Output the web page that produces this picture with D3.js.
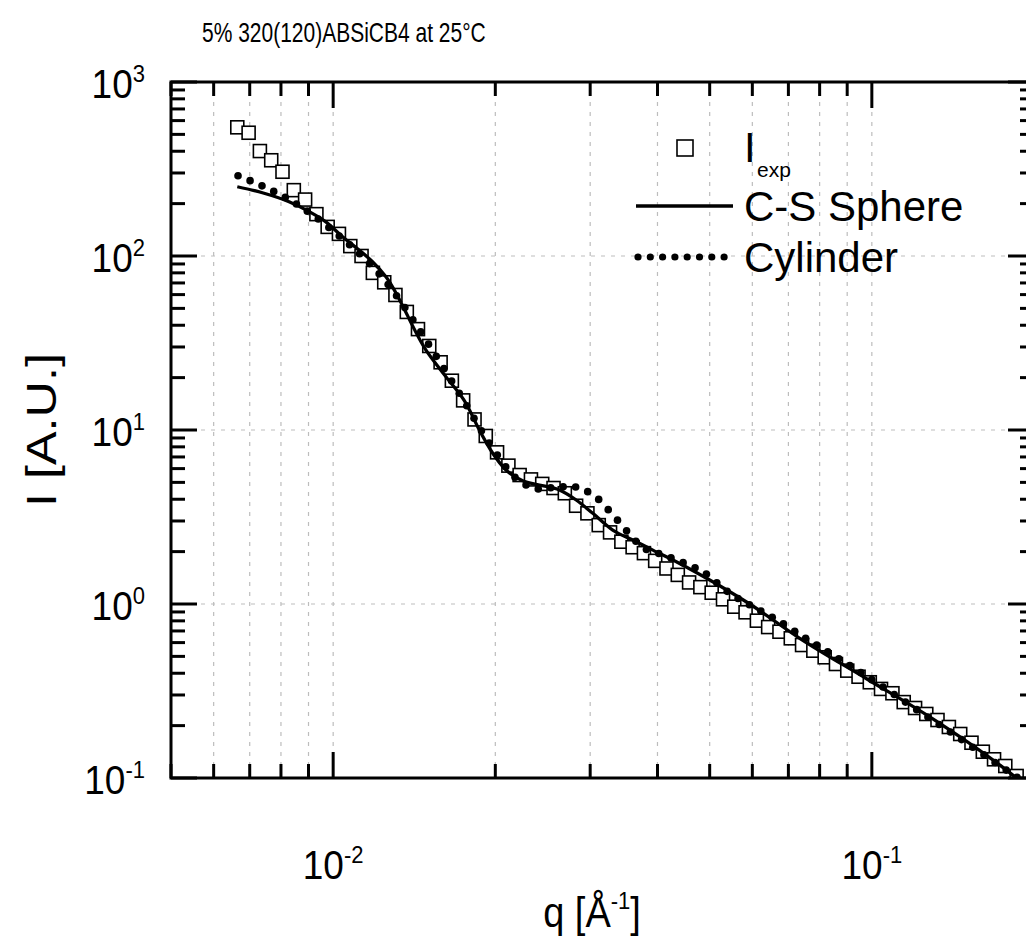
<!DOCTYPE html>
<html><head><meta charset="utf-8">
<script src="https://cdn.jsdelivr.net/npm/d3@7"></script>
<style>
body{margin:0;background:#fff}
svg{display:block}
text{font-family:"Liberation Sans",Arial,Helvetica,sans-serif;fill:#000}
</style>
</head><body>
<svg id="c" width="1026" height="939"></svg>
<script>
// ---------- data ----------
const qExp = [0.006638,0.006967,0.007311,0.007674,0.008053,0.008452,0.008870,0.009309,0.009768,0.01025,
0.01076,0.01129,0.01185,0.01244,0.01305,0.01370,0.01437,0.01508,0.01583,0.01661,
0.01743,0.01830,0.01920,0.02015,0.02115,0.02219,0.02329,0.02444,0.02565,0.02692,
0.02825,0.02965,0.03112,0.03266,0.03428,0.03597,0.03775,0.03961,0.04157,0.04363,
0.04579,0.04805,0.05043,0.05293,0.05554,0.05829,0.06118,0.06420,0.06738,0.07072,
0.07421,0.07788,0.08174,0.08578,0.09003,0.09448,0.09913,0.1040,0.1092,0.1146,
0.1203,0.1262,0.1324,0.1390,0.1459,0.1531,0.1607,0.1686,0.1769,0.1857];
const iExp = [549,511,401,355,305,239,211,174,147,134,
114,100,80,70.6,59.7,47.7,38.0,30.4,24.5,19.2,
14.8,11.5,9.24,7.44,6.24,5.51,5.20,4.90,4.64,4.33,
3.67,3.32,2.84,2.58,2.28,2.12,1.96,1.77,1.60,1.47,
1.33,1.25,1.161,1.064,0.965,0.896,0.802,0.737,0.693,0.635,
0.581,0.539,0.494,0.452,0.414,0.382,0.355,0.325,0.307,0.273,
0.2525,0.2333,0.2154,0.1964,0.1790,0.1595,0.1416,0.1281,0.1172,0.1027];

const qSphere = [0.006638,0.007389,0.008282,0.009024,0.009693,0.01041,0.01118,0.01183,0.01253,0.01487,
0.01620,0.01765,0.01868,0.01978,0.02094,0.02248,0.02415,0.02631,0.02826,0.03034,
0.03304,0.03600,0.03922,0.04397,0.05000,0.05933,0.07347,0.09775,0.1300,0.1729,0.2];
const iSphere = [250,231,205,180,157,129,108,92.7,76,28.8,
20.2,14.2,10,7.35,5.89,5.11,4.83,4.52,3.96,3.32,
2.66,2.33,2.04,1.71,1.374,1.0,0.635,0.372,0.218,0.1185,0.083];

const qCyl = [0.006659,0.007387,0.008203,0.009128,0.01012,0.01122,0.01235,0.01541,0.01648,0.01757,
0.01868,0.01998,0.02170,0.02281,0.02408,0.02539,0.02669,0.02818,0.02970,0.03131,
0.03282,0.03435,0.03585,0.03757,0.03967,0.04411,0.04893,0.05431,0.06035,0.06697,
0.07453,0.08719,0.1020,0.1193,0.1396,0.1634,0.1813,0.2];
const iCyl = [289.3,252.6,214.6,173.7,135,102.3,75.0,27.6,19.8,14.35,
10.36,7.50,5.39,4.83,4.58,4.66,4.72,4.70,4.42,3.92,
3.33,2.84,2.43,2.11,1.98,1.755,1.507,1.161,0.959,0.804,
0.649,0.481,0.353,0.255,0.1845,0.1326,0.1064,0.088];

const xDomain = [0.005, 0.2];
const yDomain = [0.1, 1000];
const xTickValues = [0.01, 0.1];
const xTickExps = ["-2", "-1"];
const yTickValues = [0.1, 1, 10, 100, 1000];
const yTickExps = ["-1", "0", "1", "2", "3"];
const titleText = "5% 320(120)ABSiCB4 at 25°C";
const legendNames = ["I", "C-S Sphere", "Cylinder"];

// ---------- layout ----------
const L = 171, R = 1034, T = 82, B = 778;
const svg = d3.select("#c");
const x = d3.scaleLog().domain(xDomain).range([L, R]);
const y = d3.scaleLog().domain(yDomain).range([B, T]);
const isMajor = v => Math.abs(Math.log10(v) - Math.round(Math.log10(v))) < 1e-6;

svg.append("clipPath").attr("id", "clip").append("rect")
  .attr("x", L).attr("y", T).attr("width", R - L).attr("height", B - T);

// grid
const grid = svg.append("g").attr("stroke", "#bdbdbd").attr("stroke-width", 1.2)
  .attr("stroke-dasharray", "4,6");
x.ticks().filter(v => v > xDomain[0] * 1.0001 && v < xDomain[1] * 0.9999).forEach(v => {
  grid.append("line").attr("x1", x(v)).attr("x2", x(v)).attr("y1", T).attr("y2", B);
});
yTickValues.filter(v => v > yDomain[0] && v < yDomain[1]).forEach(v => {
  grid.append("line").attr("x1", L).attr("x2", R).attr("y1", y(v)).attr("y2", y(v));
});

// data
const plot = svg.append("g").attr("clip-path", "url(#clip)");
const expData = qExp.map((q, i) => [q, iExp[i]]);
const sq = 13;
plot.append("g").selectAll("rect").data(expData).join("rect")
  .attr("x", d => x(d[0]) - sq / 2).attr("y", d => y(d[1]) - sq / 2)
  .attr("width", sq).attr("height", sq)
  .attr("fill", "#fff").attr("stroke", "#000").attr("stroke-width", 1.6);

const lineGen = d3.line().x(d => x(d[0])).y(d => y(d[1])).curve(d3.curveMonotoneX);
plot.append("path").datum(qSphere.map((q, i) => [q, iSphere[i]]))
  .attr("d", lineGen).attr("fill", "none").attr("stroke", "#000").attr("stroke-width", 3.3)
  .attr("stroke-linejoin", "round");

const cylPath = plot.append("path").datum(qCyl.map((q, i) => [q, iCyl[i]]))
  .attr("d", lineGen).attr("fill", "none").attr("stroke", "none");
const node = cylPath.node();
const len = node.getTotalLength();
const dots = [];
let prev = node.getPointAtLength(0), acc = 0;
dots.push(prev);
for (let s = 0.5; s <= len; s += 0.5) {
  const p = node.getPointAtLength(s);
  acc += Math.hypot(p.x - prev.x, (p.y - prev.y) / 1.24);
  prev = p;
  if (acc >= 12.3) { dots.push(p); acc = 0; }
}
plot.append("g").selectAll("circle").data(dots).join("circle")
  .attr("cx", d => d.x).attr("cy", d => d.y).attr("r", 3.8).attr("fill", "#000");

// axes frame + ticks
const ax = svg.append("g").attr("stroke", "#000");
ax.append("rect").attr("x", L).attr("y", T).attr("width", R - L).attr("height", B - T)
  .attr("fill", "none").attr("stroke-width", 3);
const tickW = 3, majLen = 26, minLen = 14;
x.ticks().forEach(v => {
  const l = isMajor(v) ? majLen : minLen;
  ax.append("line").attr("x1", x(v)).attr("x2", x(v)).attr("y1", B).attr("y2", B - l).attr("stroke-width", tickW);
  ax.append("line").attr("x1", x(v)).attr("x2", x(v)).attr("y1", T).attr("y2", T + l).attr("stroke-width", tickW);
});
y.ticks().forEach(v => {
  const l = isMajor(v) ? majLen : minLen;
  ax.append("line").attr("y1", y(v)).attr("y2", y(v)).attr("x1", L).attr("x2", L + l).attr("stroke-width", tickW);
  ax.append("line").attr("y1", y(v)).attr("y2", y(v)).attr("x1", R).attr("x2", R - l).attr("stroke-width", tickW);
});

// helper: text with a scale transform
function stext(px, py, sx, sy, size, anchor) {
  return svg.append("text").attr("transform", `translate(${px},${py}) scale(${sx},${sy})`)
    .attr("x", 0).attr("y", 0).attr("font-size", size).attr("text-anchor", anchor || "start");
}

// tick labels
const fsTick = 37, fsSup = 22;
xTickValues.forEach((v, i) => {
  const t = stext(x(v), 879, 1, 1.1, fsTick, "middle");
  t.append("tspan").text("10");
  t.append("tspan").attr("font-size", fsSup).attr("dy", -15).text(xTickExps[i]);
});
yTickValues.forEach((v, i) => {
  const t = stext(145, y(v) + 16, 1, 1.1, fsTick, "end");
  t.append("tspan").text("10");
  t.append("tspan").attr("font-size", fsSup).attr("dy", -15).text(yTickExps[i]);
});

// axis titles
const xt = stext(592, 927, 1, 1.1, 38, "middle");
xt.append("tspan").text("q [Å");
xt.append("tspan").attr("font-size", fsSup).attr("dy", -16).text("-1");
xt.append("tspan").attr("dy", 16).text("]");
svg.append("text").attr("transform", "translate(56,430) rotate(-90) scale(1.2,1)")
  .attr("text-anchor", "middle").attr("font-size", 42).text("I [A.U.]");

// title
stext(202, 42, 1, 1.3, 21, "start").text(titleText);

// legend
const lg = svg.append("g");
lg.append("rect").attr("x", 677).attr("y", 140).attr("width", 16).attr("height", 16)
  .attr("fill", "#fff").attr("stroke", "#000").attr("stroke-width", 1.6);
lg.append("text").attr("x", 744).attr("y", 162).attr("font-size", 42).text(legendNames[0]);
lg.append("text").attr("x", 757).attr("y", 177).attr("font-size", 21).text("exp");
lg.append("line").attr("x1", 636).attr("x2", 733).attr("y1", 206).attr("y2", 206)
  .attr("stroke", "#000").attr("stroke-width", 3.3);
lg.append("text").attr("x", 744).attr("y", 221).attr("font-size", 42).text(legendNames[1]);
lg.selectAll("circle").data(d3.range(8)).join("circle")
  .attr("cx", d => 638 + d * 12.3).attr("cy", 257).attr("r", 3.6).attr("fill", "#000");
lg.append("text").attr("x", 744).attr("y", 272).attr("font-size", 42).text(legendNames[2]);
</script>
</body></html>
